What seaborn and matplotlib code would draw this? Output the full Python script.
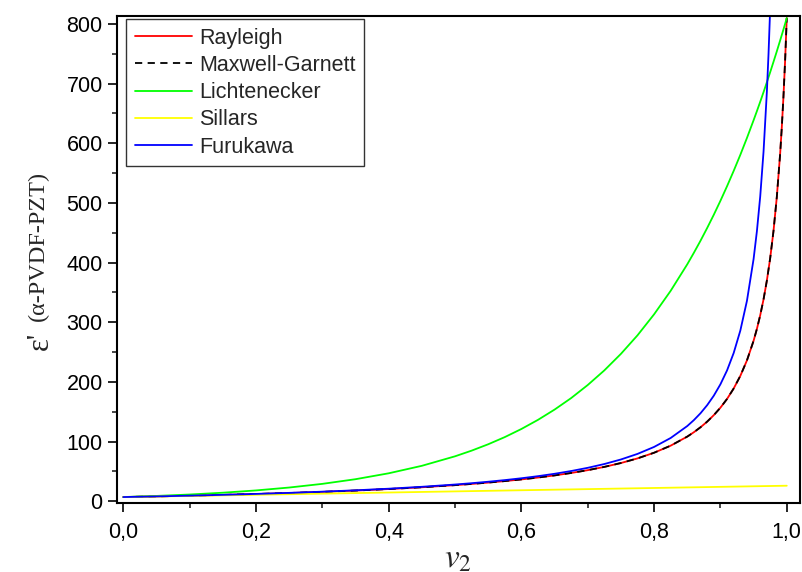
import matplotlib
matplotlib.use("Agg")
import matplotlib.pyplot as plt
from matplotlib.ticker import MultipleLocator, FuncFormatter
import seaborn as sns

# Volume fraction of PZT filler
v_frac = [0.0, 0.05, 0.1, 0.15, 0.2, 0.25, 0.3, 0.35, 0.4, 0.45, 0.5,
          0.525, 0.55, 0.575, 0.6, 0.625, 0.65, 0.675, 0.7, 0.725, 0.75, 0.775,
          0.8, 0.825, 0.85,
          0.86, 0.87, 0.88, 0.89, 0.9, 0.91, 0.92, 0.93, 0.94, 0.95,
          0.955, 0.96, 0.965, 0.97, 0.975, 0.98, 0.985, 0.99,
          0.9925, 0.995, 0.9975, 1.0]

# Effective permittivity predicted by each mixing rule
eps_rayleigh = [7.00, 8.08, 9.27, 10.60, 12.08, 13.76, 15.68, 17.87, 20.42, 23.40, 26.96,
                29.00, 31.26, 33.77, 36.57, 39.72, 43.29, 47.37, 52.07, 57.56, 64.03, 71.80,
                81.29, 93.13, 108.3,
                115.7, 124.0, 133.4, 144.3, 156.8, 171.5, 189.0, 210.1, 236.1, 269.0,
                288.9, 311.8, 338.4, 369.8, 407.3, 452.9, 509.8, 582.1,
                626.4, 677.8, 738.1, 810.0]
eps_maxwell_garnett = [7.00, 8.08, 9.27, 10.60, 12.08, 13.76, 15.68, 17.87, 20.42, 23.40, 26.96,
                       29.00, 31.26, 33.77, 36.57, 39.72, 43.29, 47.37, 52.07, 57.56, 64.03, 71.80,
                       81.29, 93.13, 108.3,
                       115.7, 124.0, 133.4, 144.3, 156.8, 171.5, 189.0, 210.1, 236.1, 269.0,
                       288.9, 311.8, 338.4, 369.8, 407.3, 452.9, 509.8, 582.1,
                       626.4, 677.8, 738.1, 810.0]
eps_lichtenecker = [7.00, 8.88, 11.26, 14.28, 18.10, 22.96, 29.11, 36.92, 46.82, 59.37, 75.30,
                    84.80, 95.49, 107.5, 121.1, 136.4, 153.6, 172.9, 194.8, 219.3, 247.0, 278.1,
                    313.3, 352.7, 397.1,
                    416.5, 436.7, 458.0, 480.2, 503.6, 528.1, 553.8, 580.7, 609.0, 638.7,
                    654.0, 669.7, 685.8, 702.3, 719.2, 736.6, 754.2, 772.4,
                    781.6, 790.9, 800.3, 810.0]

v_sillars = [0.0, 0.25, 0.5, 0.75, 1.0]
eps_sillars = [7.0, 11.75, 16.5, 21.25, 26.0]

v_furukawa = [0.0, 0.05, 0.1, 0.15, 0.2, 0.25, 0.3, 0.35, 0.4, 0.45, 0.5,
              0.525, 0.55, 0.575, 0.6, 0.625, 0.65, 0.675, 0.7, 0.725, 0.75, 0.775,
              0.8, 0.825, 0.85,
              0.86, 0.87, 0.88, 0.89, 0.9, 0.91, 0.92, 0.93, 0.94, 0.95,
              0.955, 0.96, 0.965, 0.97, 0.9725, 0.975, 0.9775, 0.98]
eps_furukawa = [7.00, 8.11, 9.33, 10.71, 12.25, 14.00, 16.00, 18.31, 21.00, 24.18, 28.00,
                30.21, 32.67, 35.41, 38.50, 42.00, 46.00, 50.62, 56.00, 62.36, 70.00, 79.33,
                91.00, 106.0, 126.0,
                136.0, 147.5, 161.0, 176.9, 196.0, 219.3, 248.5, 286.0, 336.0, 406.0,
                452.7, 511.0, 586.0, 686.0, 749.6, 826.0, 919.3, 1036.0]

x_ticks = [0.0, 0.2, 0.4, 0.6, 0.8, 1.0]
y_ticks = [0, 100, 200, 300, 400, 500, 600, 700, 800]

sns.set_style("ticks")
plt.rcParams["font.family"] = ["Liberation Sans", "DejaVu Sans"]
plt.rcParams["mathtext.fontset"] = "stix"
plt.rcParams["axes.linewidth"] = 1.5

fig = plt.figure(figsize=(8.03, 5.72), dpi=100)
ax = fig.add_axes([0.1461, 0.1206, 0.9963 - 0.1461, 0.9726 - 0.1206])

lw = 1.3
sns.lineplot(x=v_frac, y=eps_rayleigh, ax=ax, color="#ff0000", lw=lw,
             label="Rayleigh", sort=False, estimator=None)
sns.lineplot(x=v_frac, y=eps_maxwell_garnett, ax=ax, color="#000000", lw=lw,
             label="Maxwell-Garnett", sort=False, estimator=None)
ax.lines[-1].set_dashes((4.0, 3.0))
sns.lineplot(x=v_frac, y=eps_lichtenecker, ax=ax, color="#00ff00", lw=lw,
             label="Lichtenecker", sort=False, estimator=None)
sns.lineplot(x=v_sillars, y=eps_sillars, ax=ax, color="#ffff00", lw=lw,
             label="Sillars", sort=False, estimator=None)
sns.lineplot(x=v_furukawa, y=eps_furukawa, ax=ax, color="#0000ff", lw=lw,
             label="Furukawa", sort=False, estimator=None)

ax.set_xlim(-0.009, 1.02)
ax.set_ylim(-3, 814)

ax.set_xticks(x_ticks)
ax.set_yticks(y_ticks)
ax.xaxis.set_minor_locator(MultipleLocator(0.1))
ax.yaxis.set_minor_locator(MultipleLocator(50))
ax.xaxis.set_major_formatter(FuncFormatter(lambda x, p: f"{x:.1f}".replace(".", ",")))
ax.tick_params(which="major", direction="out", length=6.5, width=1.2,
               labelsize=15.5, pad=4, colors="black")
ax.tick_params(which="minor", direction="out", length=3.5, width=1.2)
ax.tick_params(axis="x", which="major", pad=7.5)
for s in ax.spines.values():
    s.set_visible(True)
    s.set_color("black")
    s.set_linewidth(1.5)

ax.set_xlabel("")
ax.set_ylabel("")

leg = ax.legend(loc="upper left", bbox_to_anchor=(0.0127, 0.993), borderaxespad=0,
                fontsize=15.5, frameon=True, fancybox=False, handlelength=2.65,
                handletextpad=0.33, labelspacing=0.29, borderpad=0.4)
leg.get_frame().set_edgecolor("#333333")
leg.get_frame().set_linewidth(1.0)
leg.get_frame().set_alpha(1.0)

# Axis titles in a serif face
fig.text(458 / 803, 1 - 568 / 572, r"$v_2$", ha="center", va="baseline",
         fontsize=24)
fig.text(40 / 803, 1 - 341 / 572, "ε'", rotation=90, ha="center", va="center",
         fontsize=22, family=["Liberation Serif", "DejaVu Serif"])
fig.text(38 / 803, 1 - 246 / 572, "(α-PVDF-PZT)", rotation=90, ha="center",
         va="center", fontsize=17.5, family=["Liberation Serif", "DejaVu Serif"])

fig.savefig("out.png", dpi=100)
